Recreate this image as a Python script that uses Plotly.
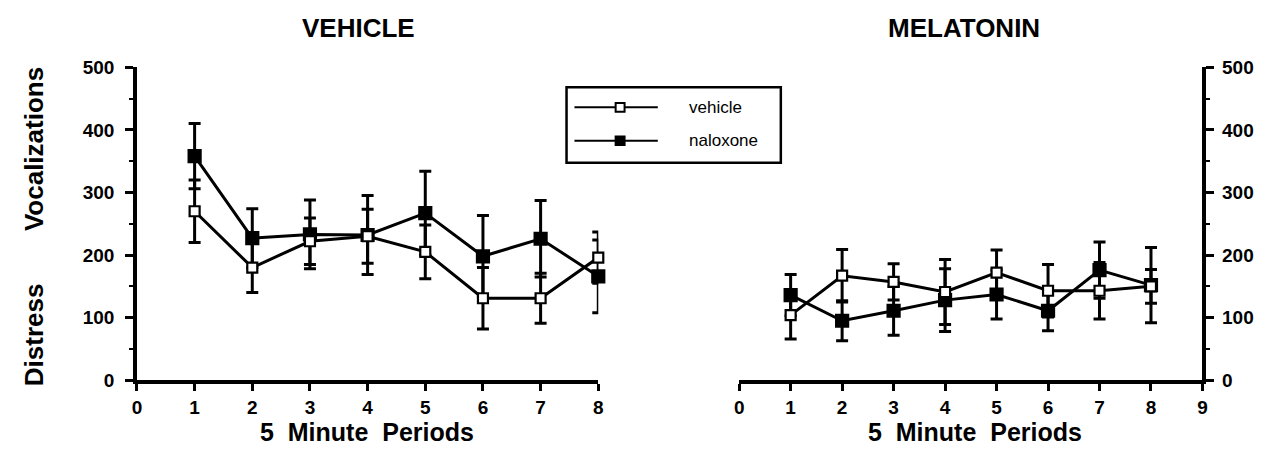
import plotly.graph_objects as go

W, H = 1267, 459

periods = [1, 2, 3, 4, 5, 6, 7, 8]

# VEHICLE panel
veh_vehicle = [270, 180, 222, 230, 205, 131, 131, 196]
veh_vehicle_err = [50, 40, 37, 43, 43, 49, 40, 41]
veh_naloxone = [358, 227, 233, 232, 267, 198, 226, 166]
veh_naloxone_err = [52, 47, 55, 63, 67, 65, 61, 58]

# MELATONIN panel
mel_vehicle = [104, 167, 157, 141, 172, 143, 143, 150]
mel_vehicle_err = [38, 42, 29, 52, 36, 42, 45, 27]
mel_naloxone = [136, 95, 111, 128, 137, 111, 176, 152]
mel_naloxone_err = [33, 32, 39, 50, 39, 32, 45, 60]

y_ticks = [0, 100, 200, 300, 400, 500]
x_ticks_left = [0, 1, 2, 3, 4, 5, 6, 7, 8]
x_ticks_right = [0, 1, 2, 3, 4, 5, 6, 7, 8, 9]

FONT = "Liberation Sans"
LW = 3


def px(x):
    return x / W


def py(y):
    return 1 - y / H


fig = go.Figure()


def add_series(xa, ya, y, err, filled):
    fig.add_trace(go.Scatter(
        x=periods, y=y, xaxis=xa, yaxis=ya, mode="lines+markers",
        line=dict(color="black", width=LW),
        marker=dict(symbol="square", size=12 if filled else 10,
                    color="black" if filled else "white",
                    line=dict(color="black", width=2.2)),
        error_y=dict(type="data", array=err, visible=True, color="black",
                     thickness=3, width=6),
        showlegend=False, cliponaxis=False,
    ))


add_series("x", "y", veh_naloxone, veh_naloxone_err, True)
add_series("x", "y", veh_vehicle, veh_vehicle_err, False)
add_series("x2", "y2", mel_naloxone, mel_naloxone_err, True)
add_series("x2", "y2", mel_vehicle, mel_vehicle_err, False)

ydom = [1 - 388 / H, 1 - 60 / H]
tickfont = dict(family=FONT, size=19, color="black", weight="bold")

common_axis = dict(showgrid=False, zeroline=False, showline=True, linecolor="black",
                   linewidth=3.5, ticks="outside", tickcolor="black", tickwidth=3,
                   tickfont=tickfont)

fig.update_layout(
    width=W, height=H, margin=dict(l=0, r=0, t=0, b=0),
    paper_bgcolor="white", plot_bgcolor="white",
    xaxis=dict(domain=[px(133), px(598)], range=[0, 8], tickvals=x_ticks_left,
               anchor="y", ticklen=7, ticklabelstandoff=0, **common_axis),
    yaxis=dict(domain=ydom, range=[0, 500], tickvals=y_ticks, anchor="x",
               ticklen=8, ticklabelstandoff=7,
               minor=dict(tickvals=[50, 150, 250, 350, 450], ticks="outside",
                          ticklen=4, tickwidth=2, tickcolor="black"),
               **common_axis),
    xaxis2=dict(domain=[px(740), px(1207)], range=[0, 9], tickvals=x_ticks_right,
                anchor="y2", ticklen=7, ticklabelstandoff=0, **common_axis),
    yaxis2=dict(domain=ydom, range=[0, 500], tickvals=y_ticks, anchor="x2",
                side="right", ticklen=8, ticklabelstandoff=4,
                minor=dict(tickvals=[50, 150, 250, 350, 450], ticks="outside",
                           ticklen=4, tickwidth=2, tickcolor="black"),
                **common_axis),
)

title_font = dict(family=FONT, size=26, color="black", weight="bold")
xtitle_font = dict(family=FONT, size=25, color="black", weight="bold")
ann = []
ann.append(dict(text="VEHICLE", x=px(356), y=py(1), xref="paper", yref="paper",
                showarrow=False, font=title_font, xanchor="center", yanchor="top"))
ann.append(dict(text="MELATONIN", x=px(967), y=py(1), xref="paper", yref="paper",
                showarrow=False, font=title_font, xanchor="center", yanchor="top"))
ann.append(dict(text="5\u00a0\u00a0Minute\u00a0\u00a0Periods", x=px(365), y=0,
                xref="paper", yref="paper", showarrow=False, font=xtitle_font,
                xanchor="center", yanchor="bottom"))
ann.append(dict(text="5\u00a0\u00a0Minute\u00a0\u00a0Periods", x=px(978), y=0,
                xref="paper", yref="paper", showarrow=False, font=xtitle_font,
                xanchor="center", yanchor="bottom"))
ann.append(dict(text="Vocalizations", x=px(30), y=py(146), xref="paper", yref="paper",
                showarrow=False, font=title_font, textangle=-90,
                xanchor="center", yanchor="middle"))
ann.append(dict(text="Distress", x=px(30), y=py(340), xref="paper", yref="paper",
                showarrow=False, font=title_font, textangle=-90,
                xanchor="center", yanchor="middle"))

# legend (drawn as a key box)
legend_font = dict(family=FONT, size=17, color="black")
shapes = []
shapes.append(dict(type="rect", xref="paper", yref="paper", x0=px(566), x1=px(782),
                   y0=py(160), y1=py(81), line=dict(color="black", width=2.5),
                   fillcolor="white", layer="above"))
for label, yy, filled in [("vehicle", 102, False), ("naloxone", 137, True)]:
    shapes.append(dict(type="line", xref="paper", yref="paper", x0=px(574), x1=px(658),
                       y0=py(yy), y1=py(yy), line=dict(color="black", width=2),
                       layer="above"))
    s = 4.5
    shapes.append(dict(type="rect", xref="paper", yref="paper", x0=px(620 - s),
                       x1=px(620 + s), y0=py(yy + s), y1=py(yy - s),
                       line=dict(color="black", width=2),
                       fillcolor="black" if filled else "white", layer="above"))
    ann.append(dict(text=label, x=px(687), y=py(yy), xref="paper", yref="paper",
                    showarrow=False, font=legend_font, xanchor="left", yanchor="middle"))

fig.update_layout(annotations=ann, shapes=shapes)

fig.write_html("out.html")
